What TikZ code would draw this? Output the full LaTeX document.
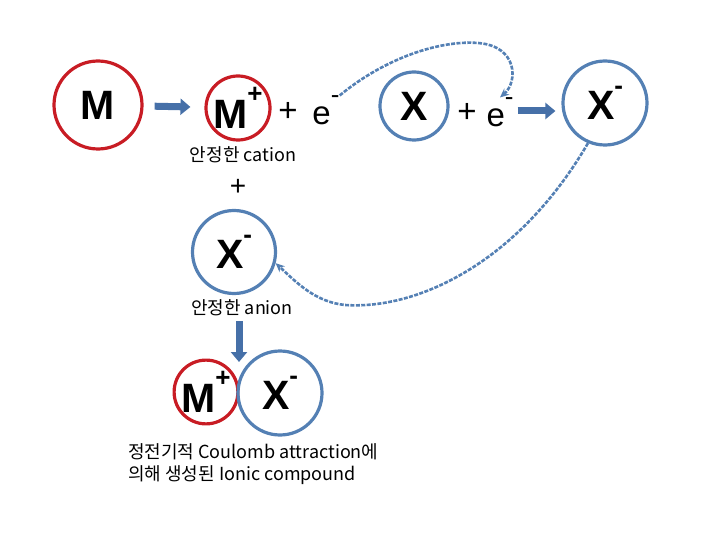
\documentclass[tikz,border=0pt]{standalone}
\usepackage{fontspec}
\setmainfont{Liberation Sans}
\newfontfamily\krfont{Noto Sans CJK KR}
\usepackage{tikz}
\usetikzlibrary{arrows.meta, positioning}
\definecolor{myred}{RGB}{200,28,36}
\definecolor{myblue}{RGB}{84,128,180}
\definecolor{myarrow}{RGB}{70,112,168}
\newcommand{\ionchg}[1]{\raisebox{0.62em}{\fontsize{26}{26}\selectfont #1}}
\tikzset{
  redion/.style={circle, draw=myred, line width=3.2pt, inner sep=0pt,
    font=\fontsize{41}{41}\selectfont\bfseries},
  blueion/.style={circle, draw=myblue, line width=3.2pt, inner sep=0pt,
    font=\fontsize{41}{41}\selectfont\bfseries},
  elec/.style={inner sep=0pt, font=\fontsize{33}{33}\selectfont},
  krlabel/.style={inner sep=0pt, font=\krfont\fontsize{18}{22}\selectfont},
  blockarrow/.style={-{Triangle[length=10pt,width=16pt]}, line width=7pt, color=myarrow},
  dasharrow/.style={-{Stealth[length=9pt,width=8pt]}, line width=2.6pt, color=myblue,
    dash pattern=on 4pt off 1.4pt}
}

\begin{document}
\begin{tikzpicture}[x=1pt, y=-1pt]
  \useasboundingbox (0,0) rectangle (720,540);

  % Metal atom and cation
  \node[redion, minimum size=88pt] (M) at (98,105) {M};
  \node[redion, minimum size=64pt] (Mp) at (238,108) {M\ionchg{+}};
  \node[elec] (plus1) at (288,112) {+};
  \node[elec] (e1) at (326,110) {e\ionchg{-}};
  \node[krlabel] (lab1) at (243,155) {안정한 cation};

  % Nonmetal atom and anion
  \node[blueion, minimum size=68pt] (X) at (414,106) {X};
  \node[elec] (plus2) at (467,113) {+};
  \node[elec] (e2) at (500,112) {e\ionchg{-}};
  \node[blueion, minimum size=84pt] (Xm) at (605,103) {X\ionchg{-}};

  % Anion in the middle column
  \node[inner sep=0pt, font=\fontsize{28}{28}\selectfont] (plus3) at (238,187) {+};
  \node[blueion, minimum size=83pt] (Xa) at (234,252) {X\ionchg{-}};
  \node[krlabel] (lab2) at (242,308) {안정한 anion};

  % Ionic compound
  \node[redion, minimum size=63pt] (Mb) at (206,392) {M\ionchg{+}};
  \node[blueion, minimum size=84pt] (Xb) at (280,393) {X\ionchg{-}};
  \coordinate (join) at (239,362);
  \node[krlabel, anchor=west, align=left] (lab3) at (128,464)
    {정전기적 Coulomb attraction에\\의해 생성된 Ionic compound};

  % Block arrows
  \draw[blockarrow, shorten <=11pt, shorten >=14pt] (M) -- (Mp);
  \draw[blockarrow, shorten <=4pt, shorten >=6pt] (e2.east |- Xm) ++(0,8) coordinate (a2) -- (a2 -| Xm.west);
  \draw[blockarrow, shorten <=5pt] (lab2.south -| join) -- (join);

  % Electron transfer
  \draw[dasharrow] (e1.north east) .. controls (385,58) and (440,40) .. (478,43)
    .. controls (518,46) and (518,82) .. (e2.north);
  \draw[dasharrow] (Xm.-113) .. controls (520,260) and (420,310) .. (345,305)
    .. controls (315,302) and (296,282) .. (Xa.-15);
\end{tikzpicture}
\end{document}
